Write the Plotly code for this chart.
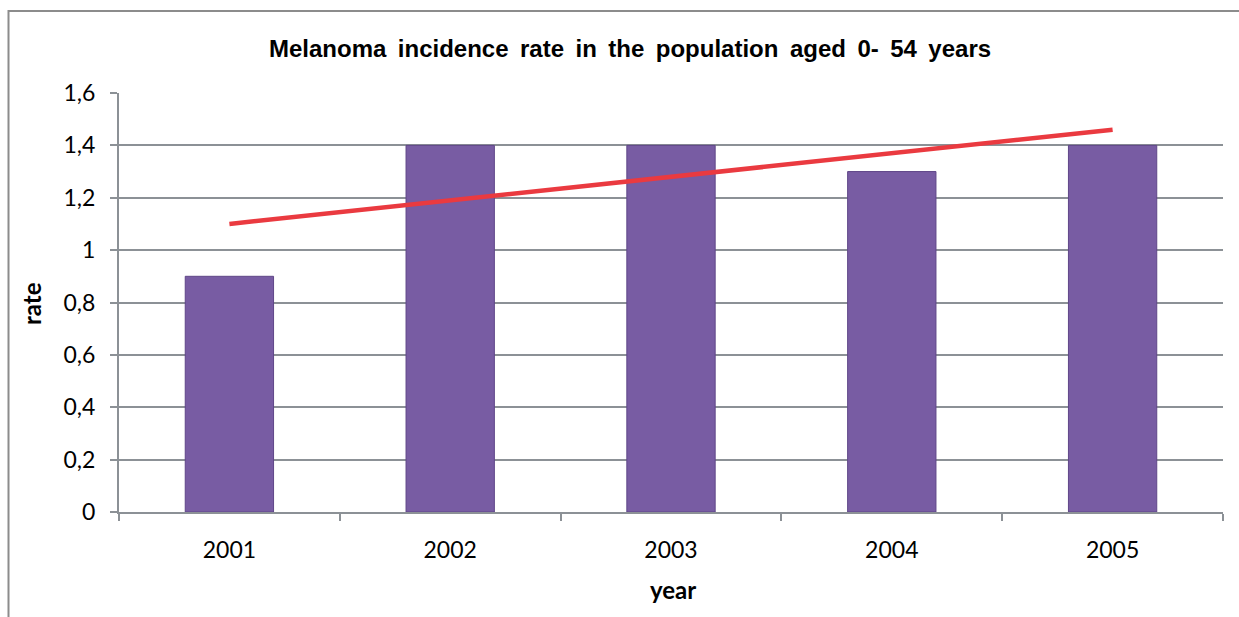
import plotly.graph_objects as go

years = ["2001", "2002", "2003", "2004", "2005"]
rates = [0.9, 1.4, 1.4, 1.3, 1.4]
trend = [1.10, 1.19, 1.28, 1.37, 1.46]
y_ticks = [0, 0.2, 0.4, 0.6, 0.8, 1.0, 1.2, 1.4, 1.6]

W, H = 1239, 617
L, R, T, B = 119, 16, 93, 105
pw, ph = W - L - R, H - T - B

def px(x):
    return (x - L) / pw

def py(y):
    return (H - B - y) / ph

grid = "#8c9196"
tfont = "Lato, Open Sans, sans-serif"
title = "Melanoma incidence rate in the population aged 0- 54 years".replace(" ", " \u2009")

fig = go.Figure()
fig.add_trace(go.Bar(
    x=years, y=rates,
    marker=dict(color="#785ca3", line=dict(color="#5f4688", width=1)),
    width=0.4, showlegend=False, hoverinfo="x+y",
))
fig.add_trace(go.Scatter(
    x=years, y=trend, mode="lines",
    line=dict(color="#ea3a40", width=4.5), showlegend=False,
))

fig.update_layout(
    width=W, height=H,
    margin=dict(l=L, r=R, t=T, b=B),
    plot_bgcolor="white", paper_bgcolor="white",
    separators=",.",
    font=dict(family=tfont, color="#000000"),
    xaxis=dict(
        type="category", tickson="boundaries", ticks="outside", ticklen=7,
        tickcolor=grid, tickwidth=1.5, showline=True, linecolor=grid, linewidth=2,
        showgrid=False, tickfont=dict(size=23), range=[-0.5, 4.5],
        ticklabelstandoff=16,
    ),
    yaxis=dict(
        range=[0, 1.6], tickvals=y_ticks, ticks="outside", ticklen=7,
        tickcolor=grid, tickwidth=1.5, showline=True, linecolor=grid, linewidth=2,
        showgrid=True, gridcolor=grid, gridwidth=1.5, zeroline=False,
        tickfont=dict(size=23), ticklabelstandoff=10,
    ),
    annotations=[
        dict(text="<b>" + title + "</b>",
             x=px(630), y=py(48), xref="paper", yref="paper", showarrow=False,
             font=dict(family="Liberation Sans, Arial, sans-serif", size=24),
             xanchor="center", yanchor="middle"),
        dict(text="<b>year</b>", x=px(673), y=py(589), xref="paper", yref="paper",
             showarrow=False, font=dict(family=tfont, size=24),
             xanchor="center", yanchor="middle"),
        dict(text="<b>rate</b>", x=px(31), y=py(304), xref="paper", yref="paper",
             showarrow=False, textangle=-90,
             font=dict(family=tfont, size=24),
             xanchor="center", yanchor="middle"),
    ],
    shapes=[
        dict(type="rect", xref="paper", yref="paper",
             x0=px(8.5), x1=px(1300), y0=py(700), y1=py(11),
             line=dict(color="#8c8c8c", width=2), fillcolor="rgba(0,0,0,0)", layer="below"),
    ],
)

fig.write_html("out.html")
